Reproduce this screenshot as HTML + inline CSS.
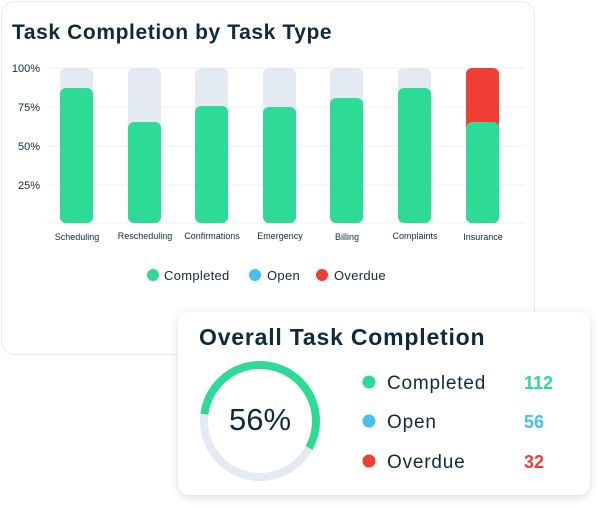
<!DOCTYPE html><html><head><style>
body{margin:0;width:603px;height:508px;background:#fff;font-family:"Liberation Sans",sans-serif;position:relative;overflow:hidden;color:#0f2a3d}
.c1{position:absolute;left:1px;top:1px;width:532px;height:352px;border:1px solid #e6eaf0;border-radius:14px;background:#fff}
.c2{position:absolute;left:178px;top:312px;width:412px;height:183px;border-radius:12px;background:#fff;box-shadow:0 2px 10px rgba(0,0,0,.15)}
</style></head><body>
<div class="c1"></div>
<svg width="603" height="508" style="position:absolute;left:0;top:0">
<text x="12" y="39" font-size="21" font-weight="bold" fill="#0f2a3d" letter-spacing="0.6">Task Completion by Task Type</text>
<g stroke="#eceff3" stroke-width="1">
<line x1="46" x2="525" y1="68" y2="68"/><line x1="46" x2="525" y1="107" y2="107"/><line x1="46" x2="525" y1="146" y2="146"/><line x1="46" x2="525" y1="185" y2="185"/><line x1="46" x2="525" y1="223" y2="223"/></g>
<g font-size="11" fill="#0f2a3d" text-anchor="end"><text x="40" y="72">100%</text><text x="40" y="111">75%</text><text x="40" y="150">50%</text><text x="40" y="189">25%</text></g>
<g fill="#e4eaf2"><rect x="60" y="68" width="33" height="155" rx="6"/><rect x="128" y="68" width="33" height="155" rx="6"/><rect x="195" y="68" width="33" height="155" rx="6"/><rect x="263" y="68" width="33" height="155" rx="6"/><rect x="330" y="68" width="33" height="155" rx="6"/><rect x="398" y="68" width="33" height="155" rx="6"/></g>
<rect x="466" y="68" width="33" height="155" rx="6" fill="#f03e35"/>
<g fill="#2ddb96"><rect x="60" y="88" width="33" height="135" rx="6"/><rect x="128" y="122" width="33" height="101" rx="6"/><rect x="195" y="106" width="33" height="117" rx="6"/><rect x="263" y="107" width="33" height="116" rx="6"/><rect x="330" y="98" width="33" height="125" rx="6"/><rect x="398" y="88" width="33" height="135" rx="6"/><rect x="466" y="122" width="33" height="101" rx="6"/></g>
<g font-size="9" fill="#0f2a3d" text-anchor="middle"><text x="77" y="240">Scheduling</text><text x="145" y="239">Rescheduling</text><text x="212" y="239">Confirmations</text><text x="280" y="239">Emergency</text><text x="347" y="240">Billing</text><text x="415" y="239">Complaints</text><text x="483" y="240">Insurance</text></g>
<g font-size="13" fill="#0f2a3d" letter-spacing="0.3"><circle cx="153" cy="275" r="6" fill="#2ddb96"/><text x="164" y="280">Completed</text><circle cx="255" cy="275" r="6" fill="#45bff0"/><text x="267" y="280">Open</text><circle cx="322" cy="275" r="6" fill="#f03e35"/><text x="334" y="280">Overdue</text></g>
</svg>
<div class="c2"></div>
<svg width="603" height="508" style="position:absolute;left:0;top:0">
<text x="199" y="345" font-size="23" font-weight="bold" fill="#0f2a3d" letter-spacing="0.8">Overall Task Completion</text>
<circle cx="260" cy="421" r="56" fill="none" stroke="#e4eaf2" stroke-width="8"/>
<circle cx="260" cy="421" r="56" fill="none" stroke="#2ddb96" stroke-width="8" stroke-dasharray="197 400" transform="rotate(187 260 421)"/>
<text x="260" y="430" font-size="31" text-anchor="middle" fill="#0f2a3d">56%</text>
<g font-size="19" fill="#0f2a3d" letter-spacing="0.8"><circle cx="369" cy="382" r="6.5" fill="#2ddb96"/><text x="387" y="389">Completed</text>
<circle cx="369" cy="421" r="6.5" fill="#45bff0"/><text x="387" y="428">Open</text>
<circle cx="369" cy="461" r="6.5" fill="#f03e35"/><text x="387" y="468">Overdue</text></g>
<g font-size="18" font-weight="bold"><text x="524" y="389" fill="#2ddb96">112</text><text x="524" y="428" fill="#45bff0">56</text><text x="524" y="468" fill="#f03e35">32</text></g>
</svg>
</body></html>
